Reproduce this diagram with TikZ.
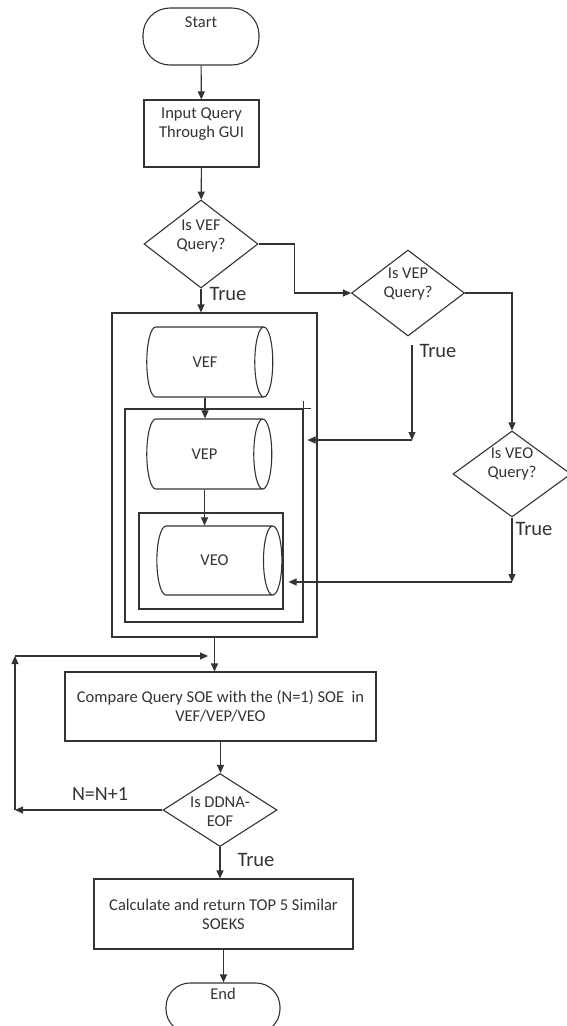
\documentclass[tikz,border=0pt]{standalone}
\usepackage{fontspec}
\setmainfont{Carlito}
\usetikzlibrary{shapes.geometric,arrows.meta}

\begin{document}
\begin{tikzpicture}[x=1pt,y=-1pt,line width=1.1pt,color=black!80,
  every node/.style={font=\fontsize{16.5}{19}\selectfont},
  term/.style={draw,rectangle,rounded corners=27pt,inner sep=0pt},
  proc/.style={draw,rectangle,inner sep=0pt,align=center},
  decide/.style={draw,diamond,inner sep=0pt},
  store/.style={draw,cylinder,shape aspect=1.7,inner sep=0pt},
  frame/.style={draw,rectangle,inner sep=0pt},
  flow/.style={-{Triangle[length=8pt,width=7pt]}},
  tag/.style={font=\fontsize{20.5}{23}\selectfont,anchor=west,inner sep=0pt}]
  \useasboundingbox (0,0) rectangle (567,1026);
  \clip (0,0) rectangle (567,1026);

  \node[term,minimum width=116pt,minimum height=57pt,
    label={[anchor=north,inner sep=0pt,yshift=-9pt]north:Start}] (start) at (201,36.5) {};
  \node[proc,minimum width=115pt,minimum height=67pt,
    label={[align=center,yshift=9pt]center:Input Query\\Through GUI}] (input) at (201.5,133.5) {};
  \node[decide,minimum width=114pt,minimum height=88pt,
    label={[align=center,yshift=8pt]center:Is VEF\\Query?}] (d1) at (201,244) {};
  \node[decide,minimum width=113pt,minimum height=86pt,
    label={[align=center,yshift=9pt]center:Is VEP\\Query?}] (d2) at (408,293) {};
  \node[decide,minimum width=118pt,minimum height=86pt,
    label={[align=center,yshift=10pt]center:Is VEO\\Query?}] (d3) at (512,474) {};

  \node[frame,minimum width=205pt,minimum height=324pt] (outer) at (214.5,475) {};
  \node[frame,minimum width=178pt,minimum height=213pt] (mid) at (214,515.5) {};
  \node[frame,minimum width=144pt,minimum height=96pt] (inner) at (211,561) {};
  \draw (mid.north east) -- ++(7,0);
  \draw (mid.north east) -- ++(0,-7);

  % cylinder: height runs along the axis
  \node[store,minimum height=126pt,minimum width=70pt] (vef) at (205,362) {VEF};
  \node[store,minimum height=125pt,minimum width=70pt] (vep) at (204.5,454) {VEP};
  \node[store,minimum height=125pt,minimum width=69pt] (veo) at (214.5,560.5) {VEO};

  \node[proc,minimum width=311pt,minimum height=69pt] (cmp) at (220.5,706.5)
    {Compare Query SOE with the (N=1) SOE~ in\\VEF/VEP/VEO};
  \node[decide,minimum width=114pt,minimum height=73pt,
    label={[align=center,yshift=-2pt]center:Is DDNA-\\EOF}] (d4) at (220,810) {};
  \node[proc,minimum width=259pt,minimum height=70pt] (calc) at (223.5,914)
    {Calculate and return TOP 5 Similar\\SOEKS};
  \node[term,minimum width=114pt,minimum height=50pt,rounded corners=24pt,
    label={[anchor=north,inner sep=0pt,yshift=-5pt]north:End}] (stop) at (223,1008) {};

  \node[tag] (t1) at (209,294) {True};
  \node[tag] (t2) at (419,351) {True};
  \node[tag] (t3) at (515,529) {True};
  \node[tag] (t4) at (237,860) {True};
  \node[font=\fontsize{20}{23}\selectfont] (nn) at (100,794) {N=N+1};

  \coordinate (veptrue) at (412,345);
  \coordinate (vepdrop) at (412,440);
  \coordinate (veodrop) at (512,582);
  \coordinate (loopa) at (15,810);
  \coordinate (loopb) at (15,656);
  \coordinate (loopc) at (208,656);

  \draw[flow] (start) -- (input);
  \draw[flow] (input) -- (d1);
  \draw[flow] (d1.south) -- (d1.south |- outer.north);
  \draw[flow] (d1.east) -- ++(36,0) |- (d2.west);
  \draw[flow] (d2.east) -| (d3.north);
  \draw[flow] (veptrue) -- (vepdrop);
  \draw[flow,shorten >=4pt] (vepdrop) -- (mid.east |- vepdrop);
  \draw[flow] (d3.south) -- (veodrop);
  \draw[flow,shorten >=5pt] (veodrop) -- (inner.east |- veodrop);
  \draw[flow] (vef.south) -- (vef.south |- vep.north);
  \draw[flow] (vep.south) -- (vep.south |- veo.north);
  \draw[flow] (outer.south) -- (outer.south |- cmp.north);
  \draw[flow] (cmp.south) -- (cmp.south |- d4.north);
  \draw[flow] (d4.west) -- (loopa);
  \draw[flow] (loopa) -- (loopb);
  \draw[flow] (loopb) -- (loopc);
  \draw[flow] (d4.south) -- (d4.south |- calc.north);
  \draw[flow] (calc.south) -- (calc.south |- stop.north);
\end{tikzpicture}
\end{document}
